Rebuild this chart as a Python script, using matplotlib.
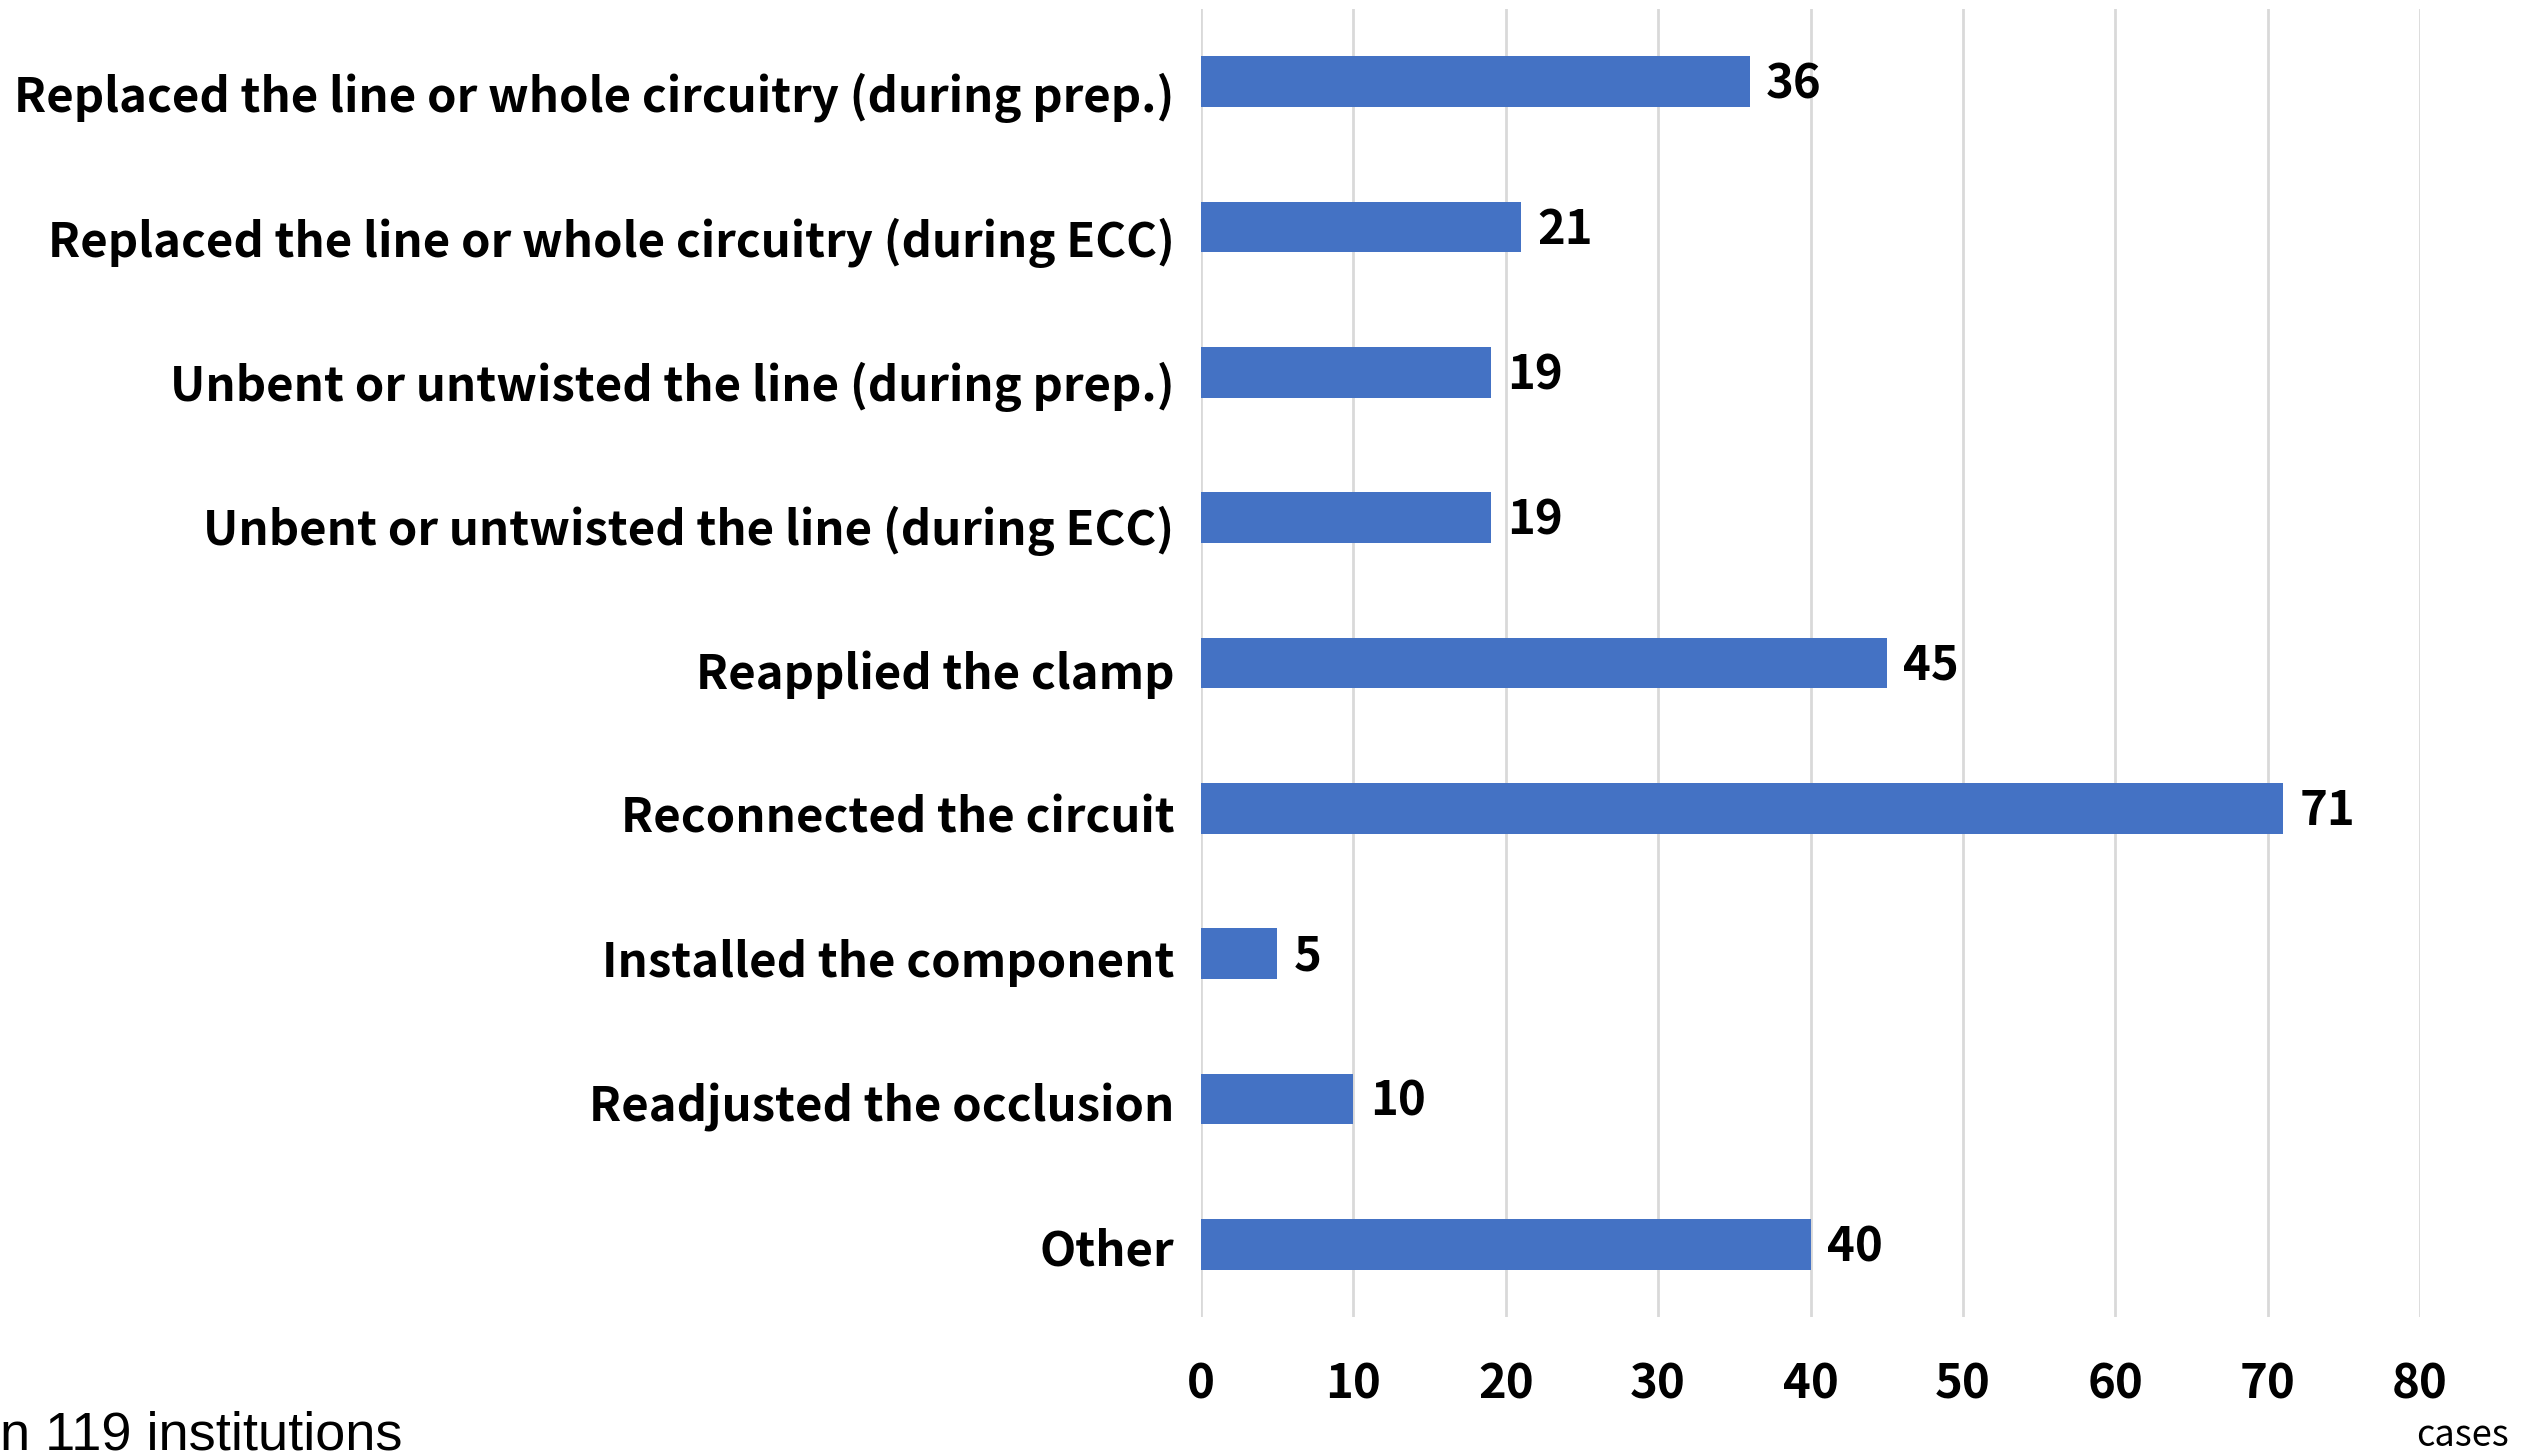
import matplotlib
matplotlib.use("Agg")
import matplotlib.pyplot as plt
from matplotlib.transforms import ScaledTranslation

categories = [
    "Replaced the line or whole circuitry (during prep.)",
    "Replaced the line or whole circuitry (during ECC)",
    "Unbent or untwisted the line (during prep.)",
    "Unbent or untwisted the line (during ECC)",
    "Reapplied the clamp",
    "Reconnected the circuit",
    "Installed the component",
    "Readjusted the occlusion",
    "Other",
]
values = [36, 21, 19, 19, 45, 71, 5, 10, 40]
xticks = [0, 10, 20, 30, 40, 50, 60, 70, 80]

FONT = ["Noto Sans CJK JP", "DejaVu Sans"]
plt.rcParams["font.family"] = FONT

W, H = 2531, 1455
fig = plt.figure(figsize=(W / 100, H / 100), dpi=100)
ax = fig.add_axes([1201 / W, (H - 1317) / H, (2420 - 1201) / W, (1317 - 9) / H])

ypos = list(range(len(categories)))
ax.barh(ypos, values, height=0.35, color="#4472C4", zorder=3)
ax.set_ylim(len(categories) - 0.5, -0.5)
ax.set_xlim(0, 80)
ax.set_xticks(xticks)
ax.set_xticklabels([str(t) for t in xticks], fontsize=34, fontweight="bold")
ax.set_yticks(ypos)
ax.set_yticklabels(categories, fontsize=34, fontweight="bold")
ax.tick_params(axis="both", length=0)
ax.tick_params(axis="y", pad=19)
ax.tick_params(axis="x", pad=31)
ax.grid(axis="x", color="#d9d9d9", linewidth=2, zorder=0)
for s in ax.spines.values():
    s.set_visible(False)

for i, lab in enumerate(ax.get_yticklabels()):
    dy = -(8 - 0.85 * i) / 72
    lab.set_transform(lab.get_transform() + ScaledTranslation(0, dy, fig.dpi_scale_trans))

for y, v in zip(ypos, values):
    ax.annotate(str(v), (v, y), xytext=(12, -2), textcoords="offset points",
                ha="left", va="center", fontsize=34, fontweight="bold")

fig.text(2463 / W, 1 - 1436 / H, "cases", fontsize=26, ha="center", va="center")
fig.text(0, 1 - 1436 / H, "n 119 institutions", fontsize=39, ha="left", va="center",
         family="Liberation Sans")

fig.savefig("out.png", dpi=100)
